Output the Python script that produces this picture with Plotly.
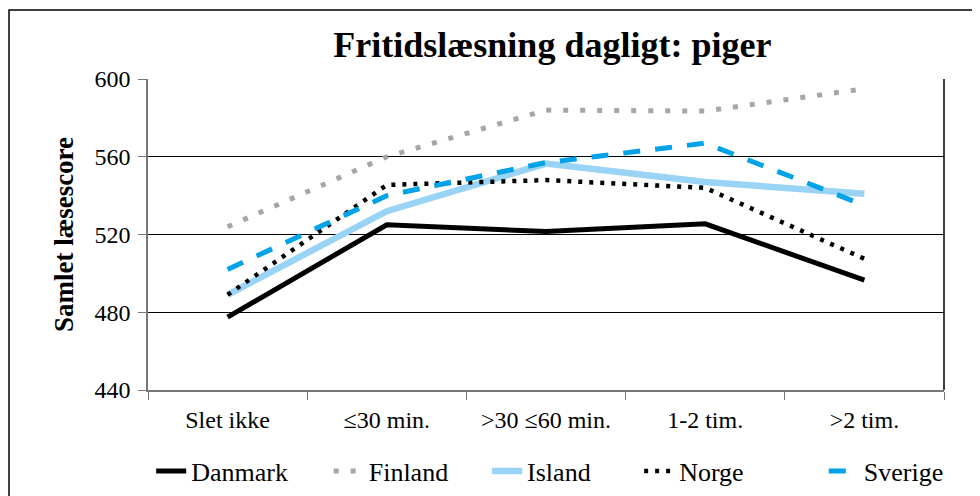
import plotly.graph_objects as go

# ── data ─────────────────────────────────────────────
categories = ["Slet ikke", "≤30 min.", ">30 ≤60 min.", "1-2 tim.", ">2 tim."]
danmark = [477.5, 525, 521.5, 525.5, 496.5]
finland = [524, 560, 584, 583.5, 595]
island = [489, 532, 556.5, 547, 541]
norge = [489, 545.5, 548, 544, 507.5]
sverige = [502, 540, 557, 567, 535]
y_ticks = [440, 480, 520, 560, 600]

FONT = "Liberation Serif"

series = [
    ("Danmark", danmark, dict(color="#000000", width=5)),
    ("Finland", finland, dict(color="#a6a6a6", width=5, dash="5px,12px")),
    ("Island", island, dict(color="#99d3f5", width=6.5)),
    ("Norge", norge, dict(color="#000000", width=4.5, dash="4px,7px")),
    ("Sverige", sverige, dict(color="#00a2e8", width=5, dash="17px,15px")),
]
# one legend box per series so the uneven spacing of the original can be kept
legend_x = [0.004, 0.227, 0.426, 0.617, 0.849]

fig = go.Figure()
legends = {}
for i, (name, vals, line) in enumerate(series):
    key = "legend" if i == 0 else f"legend{i + 1}"
    fig.add_trace(go.Scatter(x=categories, y=vals, name=name, mode="lines",
                             line=line, legend=key))
    legends[key] = dict(orientation="h", x=legend_x[i], xanchor="left",
                        y=-0.185, yanchor="top", bgcolor="rgba(0,0,0,0)",
                        font=dict(size=26, family=FONT))

# page body has an 8px margin, so everything is shifted by 8px
fig.update_layout(
    width=980, height=496,
    paper_bgcolor="white", plot_bgcolor="white",
    font=dict(family=FONT, color="black", size=24),
    margin=dict(l=140, r=44, t=71, b=114, autoexpand=False),
    title=dict(text="<b>Fritidslæsning dagligt: piger</b>", x=0.508, xref="paper",
               y=0.926, yanchor="middle", font=dict(size=36, family=FONT)),
    showlegend=True,
    xaxis=dict(type="category", showgrid=False, showline=True, linecolor="#777",
               linewidth=1.5, ticks="outside", tickson="boundaries", ticklen=8,
               tickcolor="#777", tickfont=dict(size=24), range=[-0.5, 4.5],
               ticklabelstandoff=7, automargin=False),
    yaxis=dict(range=[440, 600], tickvals=y_ticks, showgrid=True,
               gridcolor="#000", gridwidth=1, showline=True, linecolor="#777",
               linewidth=1.5, ticks="outside", ticklen=8, tickcolor="#777",
               tickfont=dict(size=24), zeroline=False, automargin=False,
               ticklabelstandoff=3,
               title=dict(text="<b>Samlet læsescore</b>", font=dict(size=27),
                          standoff=13)),
    **legends,
)

# right border of plot area
fig.add_shape(type="line", xref="paper", yref="paper", x0=1, x1=1, y0=0, y1=1,
              line=dict(color="#000", width=1.5))
# outer chart frame
fig.add_shape(type="rect", xref="paper", yref="paper",
              x0=-0.1746, x1=1.06, y0=-0.36, y1=1.222,
              line=dict(color="#000", width=1.5))

fig.write_html("out.html")
